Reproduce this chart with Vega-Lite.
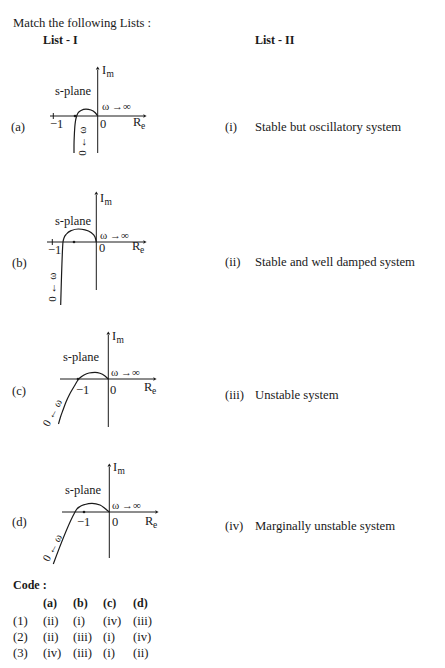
{
  "$schema": "https://vega.github.io/schema/vega-lite/v6.json",
  "width": 445,
  "height": 668,
  "autosize": {"type": "fit", "contains": "padding"},
  "padding": 0,
  "background": "white",
  "config": {"view": {"stroke": null}, "text": {"font": "Liberation Serif", "color": "#1a1a1a"}},
  "datasets": {
    "segs": [
      {"x": 50, "y": 116, "x2": 143, "y2": 116},
      {"x": 97.7, "y": 153, "x2": 97.7, "y2": 70},
      {"x": 53.3, "y": 113, "x2": 53.3, "y2": 119},
      {"x": 47, "y": 242, "x2": 143, "y2": 242},
      {"x": 96.3, "y": 290, "x2": 96.3, "y2": 195},
      {"x": 52.3, "y": 239, "x2": 52.3, "y2": 245},
      {"x": 60, "y": 379, "x2": 153, "y2": 379},
      {"x": 108.3, "y": 427, "x2": 108.3, "y2": 335},
      {"x": 62, "y": 512, "x2": 155, "y2": 512},
      {"x": 109.3, "y": 558, "x2": 109.3, "y2": 467}
    ],
    "arrows": [
      {"x": 145, "y": 116, "dir": "right"},
      {"x": 145, "y": 242, "dir": "right"},
      {"x": 155, "y": 379, "dir": "right"},
      {"x": 157, "y": 512, "dir": "right"},
      {"x": 97.7, "y": 68, "dir": "up"},
      {"x": 96.3, "y": 193, "dir": "up"},
      {"x": 108.3, "y": 333, "dir": "up"},
      {"x": 109.3, "y": 465, "dir": "up"}
    ],
    "dots": [
      {"x": 75, "y": 116}, {"x": 74, "y": 242}, {"x": 78, "y": 379}, {"x": 84, "y": 512}
    ],
    "curves": [
      {"p": "a", "i": 0, "x": 97.7, "y": 116}, {"p": "a", "i": 1, "x": 95, "y": 112.5}, {"p": "a", "i": 2, "x": 91, "y": 110}, {"p": "a", "i": 3, "x": 86, "y": 109.2}, {"p": "a", "i": 4, "x": 81, "y": 110.5}, {"p": "a", "i": 5, "x": 78, "y": 113}, {"p": "a", "i": 6, "x": 76.5, "y": 116.5}, {"p": "a", "i": 7, "x": 75.5, "y": 121}, {"p": "a", "i": 8, "x": 74.8, "y": 127}, {"p": "a", "i": 9, "x": 74.3, "y": 136}, {"p": "a", "i": 10, "x": 74, "y": 145}, {"p": "a", "i": 11, "x": 74, "y": 153},
      {"p": "b", "i": 0, "x": 96.3, "y": 242}, {"p": "b", "i": 1, "x": 95, "y": 237}, {"p": "b", "i": 2, "x": 91, "y": 232.5}, {"p": "b", "i": 3, "x": 85, "y": 229.8}, {"p": "b", "i": 4, "x": 78.3, "y": 229}, {"p": "b", "i": 5, "x": 71.5, "y": 230.5}, {"p": "b", "i": 6, "x": 66.5, "y": 234}, {"p": "b", "i": 7, "x": 64, "y": 238}, {"p": "b", "i": 8, "x": 63, "y": 242}, {"p": "b", "i": 9, "x": 60.7, "y": 305},
      {"p": "c", "i": 0, "x": 108.3, "y": 379}, {"p": "c", "i": 1, "x": 105, "y": 376}, {"p": "c", "i": 2, "x": 100, "y": 373.2}, {"p": "c", "i": 3, "x": 95, "y": 372.4}, {"p": "c", "i": 4, "x": 89, "y": 373}, {"p": "c", "i": 5, "x": 84, "y": 375}, {"p": "c", "i": 6, "x": 80, "y": 377.8}, {"p": "c", "i": 7, "x": 78, "y": 380}, {"p": "c", "i": 8, "x": 75, "y": 385}, {"p": "c", "i": 9, "x": 70, "y": 393.5}, {"p": "c", "i": 10, "x": 66, "y": 402}, {"p": "c", "i": 11, "x": 63, "y": 410}, {"p": "c", "i": 12, "x": 60.5, "y": 417}, {"p": "c", "i": 13, "x": 58.5, "y": 424},
      {"p": "d", "i": 0, "x": 109.3, "y": 512}, {"p": "d", "i": 1, "x": 105, "y": 508.5}, {"p": "d", "i": 2, "x": 100, "y": 505}, {"p": "d", "i": 3, "x": 92, "y": 503.4}, {"p": "d", "i": 4, "x": 85, "y": 504.5}, {"p": "d", "i": 5, "x": 80, "y": 506.5}, {"p": "d", "i": 6, "x": 76.5, "y": 509.5}, {"p": "d", "i": 7, "x": 74.5, "y": 513}, {"p": "d", "i": 8, "x": 53.3, "y": 564}
    ],
    "labels": [
      {"k": "t", "x": 13, "y": 23, "t": "Match the following Lists :"},
      {"k": "t", "x": 11, "y": 127, "t": "(a)"},
      {"k": "t", "x": 12, "y": 263, "t": "(b)"},
      {"k": "t", "x": 12, "y": 391, "t": "(c)"},
      {"k": "t", "x": 12, "y": 522, "t": "(d)"},
      {"k": "t", "x": 225, "y": 127, "t": "(i)"},
      {"k": "t", "x": 255, "y": 127, "t": "Stable but oscillatory system"},
      {"k": "t", "x": 225, "y": 262, "t": "(ii)"},
      {"k": "t", "x": 255, "y": 262, "t": "Stable and well damped system"},
      {"k": "t", "x": 225, "y": 395, "t": "(iii)"},
      {"k": "t", "x": 255, "y": 395, "t": "Unstable system"},
      {"k": "t", "x": 225, "y": 526, "t": "(iv)"},
      {"k": "t", "x": 255, "y": 526, "t": "Marginally unstable system"},
      {"k": "t", "x": 13, "y": 621, "t": "(1)"},
      {"k": "t", "x": 43, "y": 621, "t": "(ii)"},
      {"k": "t", "x": 73, "y": 621, "t": "(i)"},
      {"k": "t", "x": 103, "y": 621, "t": "(iv)"},
      {"k": "t", "x": 133, "y": 621, "t": "(iii)"},
      {"k": "t", "x": 13, "y": 637, "t": "(2)"},
      {"k": "t", "x": 43, "y": 637, "t": "(ii)"},
      {"k": "t", "x": 73, "y": 637, "t": "(iii)"},
      {"k": "t", "x": 103, "y": 637, "t": "(i)"},
      {"k": "t", "x": 133, "y": 637, "t": "(iv)"},
      {"k": "t", "x": 13, "y": 653, "t": "(3)"},
      {"k": "t", "x": 43, "y": 653, "t": "(iv)"},
      {"k": "t", "x": 73, "y": 653, "t": "(iii)"},
      {"k": "t", "x": 103, "y": 653, "t": "(i)"},
      {"k": "t", "x": 133, "y": 653, "t": "(ii)"},
      {"k": "b", "x": 43, "y": 40, "t": "List - I"},
      {"k": "b", "x": 255, "y": 40, "t": "List - II"},
      {"k": "b", "x": 13, "y": 585, "t": "Code :"},
      {"k": "b", "x": 43, "y": 603, "t": "(a)"},
      {"k": "b", "x": 73, "y": 603, "t": "(b)"},
      {"k": "b", "x": 103, "y": 603, "t": "(c)"},
      {"k": "b", "x": 133, "y": 603, "t": "(d)"},
      {"k": "d", "x": 55, "y": 91, "t": "s-plane"},
      {"k": "d", "x": 55, "y": 221, "t": "s-plane"},
      {"k": "d", "x": 63, "y": 357, "t": "s-plane"},
      {"k": "d", "x": 65, "y": 490, "t": "s-plane"},
      {"k": "d", "x": 50, "y": 123.5, "t": "−1"},
      {"k": "d", "x": 48, "y": 250, "t": "−1"},
      {"k": "d", "x": 76, "y": 390, "t": "−1"},
      {"k": "d", "x": 77, "y": 522, "t": "−1"},
      {"k": "d", "x": 100, "y": 124, "t": "0"},
      {"k": "d", "x": 99, "y": 248, "t": "0"},
      {"k": "d", "x": 110, "y": 390, "t": "0"},
      {"k": "d", "x": 112, "y": 522, "t": "0"},
      {"k": "d", "x": 102, "y": 70, "t": "I"},
      {"k": "d", "x": 100, "y": 198, "t": "I"},
      {"k": "d", "x": 112, "y": 336, "t": "I"},
      {"k": "d", "x": 113, "y": 467, "t": "I"},
      {"k": "d", "x": 133, "y": 122, "t": "R"},
      {"k": "d", "x": 132, "y": 246, "t": "R"},
      {"k": "d", "x": 144, "y": 387, "t": "R"},
      {"k": "d", "x": 145, "y": 521, "t": "R"},
      {"k": "s", "x": 106.5, "y": 73.5, "t": "m"},
      {"k": "s", "x": 104.5, "y": 201.5, "t": "m"},
      {"k": "s", "x": 116.5, "y": 339.5, "t": "m"},
      {"k": "s", "x": 117.5, "y": 470.5, "t": "m"},
      {"k": "s", "x": 141, "y": 125.5, "t": "e"},
      {"k": "s", "x": 140, "y": 249.5, "t": "e"},
      {"k": "s", "x": 152, "y": 390.5, "t": "e"},
      {"k": "s", "x": 153, "y": 524.5, "t": "e"},
      {"k": "w", "x": 102, "y": 107, "t": "ω →∞"},
      {"k": "w", "x": 100, "y": 236, "t": "ω →∞"},
      {"k": "w", "x": 111, "y": 373, "t": "ω →∞"},
      {"k": "w", "x": 112, "y": 506, "t": "ω →∞"},
      {"k": "r90", "x": 83, "y": 141, "t": "0 ← ω"},
      {"k": "r90", "x": 53, "y": 287, "t": "0 ← ω"},
      {"k": "r62", "x": 53, "y": 413, "t": "0 ← ω"},
      {"k": "r62", "x": 53, "y": 548, "t": "0 ← ω"}
    ]
  },
  "encoding": {
    "x": {"field": "x", "type": "quantitative", "axis": null, "scale": {"domain": [0, 445], "nice": false, "zero": false}},
    "y": {"field": "y", "type": "quantitative", "axis": null, "scale": {"domain": [0, 668], "nice": false, "zero": false, "reverse": true}}
  },
  "layer": [
    {
      "data": {"name": "segs"},
      "mark": {"type": "rule", "color": "#1a1a1a", "strokeWidth": 1},
      "encoding": {"x2": {"field": "x2"}, "y2": {"field": "y2"}}
    },
    {
      "data": {"name": "curves"},
      "mark": {"type": "line", "color": "#1a1a1a", "strokeWidth": 1.2, "interpolate": "monotone"},
      "encoding": {"detail": {"field": "p"}, "order": {"field": "i", "type": "quantitative"}}
    },
    {
      "data": {"name": "arrows"},
      "transform": [{"filter": "datum.dir === 'right'"}],
      "mark": {"type": "point", "shape": "triangle-right", "filled": true, "color": "#1a1a1a", "size": 14, "opacity": 1}
    },
    {
      "data": {"name": "arrows"},
      "transform": [{"filter": "datum.dir === 'up'"}],
      "mark": {"type": "point", "shape": "triangle-up", "filled": true, "color": "#1a1a1a", "size": 14, "opacity": 1}
    },
    {
      "data": {"name": "dots"},
      "mark": {"type": "point", "shape": "circle", "filled": true, "color": "#1a1a1a", "size": 7, "opacity": 1}
    },
    {
      "data": {"name": "labels"},
      "transform": [{"filter": "datum.k === 't'"}],
      "mark": {"type": "text", "align": "left", "baseline": "middle", "fontSize": 12.7},
      "encoding": {"text": {"field": "t"}}
    },
    {
      "data": {"name": "labels"},
      "transform": [{"filter": "datum.k === 'b'"}],
      "mark": {"type": "text", "align": "left", "baseline": "middle", "fontSize": 12, "fontWeight": "bold"},
      "encoding": {"text": {"field": "t"}}
    },
    {
      "data": {"name": "labels"},
      "transform": [{"filter": "datum.k === 'd'"}],
      "mark": {"type": "text", "align": "left", "baseline": "middle", "fontSize": 12.5},
      "encoding": {"text": {"field": "t"}}
    },
    {
      "data": {"name": "labels"},
      "transform": [{"filter": "datum.k === 's'"}],
      "mark": {"type": "text", "align": "left", "baseline": "middle", "fontSize": 9.5},
      "encoding": {"text": {"field": "t"}}
    },
    {
      "data": {"name": "labels"},
      "transform": [{"filter": "datum.k === 'w'"}],
      "mark": {"type": "text", "align": "left", "baseline": "middle", "fontSize": 11},
      "encoding": {"text": {"field": "t"}}
    },
    {
      "data": {"name": "labels"},
      "transform": [{"filter": "datum.k === 'r90'"}],
      "mark": {"type": "text", "align": "center", "baseline": "middle", "fontSize": 11, "angle": 270},
      "encoding": {"text": {"field": "t"}}
    },
    {
      "data": {"name": "labels"},
      "transform": [{"filter": "datum.k === 'r62'"}],
      "mark": {"type": "text", "align": "center", "baseline": "middle", "fontSize": 11, "angle": 298},
      "encoding": {"text": {"field": "t"}}
    }
  ]
}
